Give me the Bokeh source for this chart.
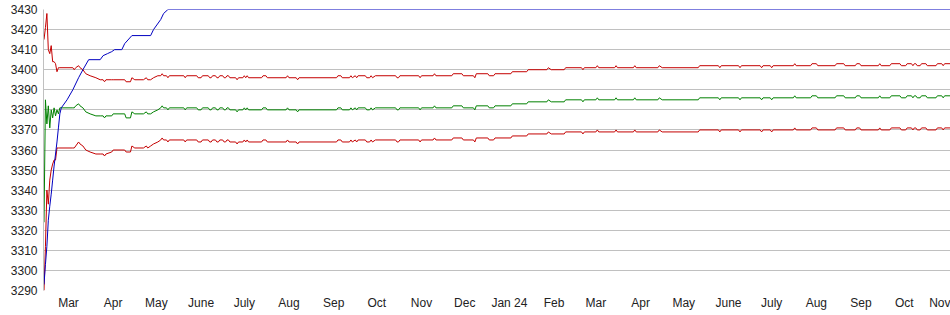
import pandas as pd
from bokeh.plotting import figure
from bokeh.models import Range1d, FixedTicker
from bokeh.embed import file_html
from bokeh.resources import INLINE

# ---------------- data ----------------
band_dates = [
    "2023-02-12", "2023-02-13", "2023-02-14", "2023-02-15", "2023-02-16", "2023-02-17", "2023-02-18", "2023-02-19", "2023-02-20", "2023-02-21",
    "2023-02-22", "2023-02-23", "2023-03-04", "2023-03-05", "2023-03-06", "2023-03-08", "2023-03-09", "2023-03-11", "2023-03-13", "2023-03-16",
    "2023-03-20", "2023-03-23", "2023-03-25", "2023-03-26", "2023-03-27", "2023-03-31", "2023-04-01", "2023-04-09", "2023-04-10", "2023-04-13",
    "2023-04-14", "2023-04-16", "2023-04-22", "2023-04-24", "2023-04-25", "2023-04-27", "2023-04-29", "2023-05-02", "2023-05-04", "2023-05-05",
    "2023-05-06", "2023-05-08", "2023-05-09", "2023-05-10", "2023-05-20", "2023-05-21", "2023-05-22", "2023-05-29", "2023-05-30", "2023-06-01",
    "2023-06-02", "2023-06-06", "2023-06-07", "2023-06-08", "2023-06-09", "2023-06-11", "2023-06-12", "2023-06-13", "2023-06-14", "2023-06-16",
    "2023-06-17", "2023-06-18", "2023-06-19", "2023-06-20", "2023-06-21", "2023-06-25", "2023-06-26", "2023-06-27", "2023-06-30", "2023-07-01",
    "2023-07-02", "2023-07-03", "2023-07-04", "2023-07-13", "2023-07-14", "2023-07-16", "2023-07-17", "2023-07-30", "2023-07-31", "2023-08-01",
    "2023-08-06", "2023-08-07", "2023-08-08", "2023-09-03", "2023-09-04", "2023-09-06", "2023-09-07", "2023-09-12", "2023-09-13", "2023-09-14",
    "2023-09-16", "2023-09-17", "2023-09-18", "2023-09-23", "2023-09-24", "2023-09-26", "2023-09-27", "2023-09-28", "2023-09-30", "2023-10-14",
    "2023-10-15", "2023-10-16", "2023-10-17", "2023-10-30", "2023-10-31", "2023-11-01", "2023-11-09", "2023-11-10", "2023-11-11", "2023-11-22",
    "2023-11-23", "2023-11-29", "2023-11-30", "2023-12-07", "2023-12-08", "2023-12-09", "2023-12-17", "2023-12-18", "2023-12-21", "2023-12-22",
    "2024-01-02", "2024-01-03", "2024-01-13", "2024-01-14", "2024-01-27", "2024-01-28", "2024-01-30", "2024-02-08", "2024-02-09", "2024-02-20",
    "2024-02-21", "2024-02-22", "2024-03-01", "2024-03-02", "2024-03-03", "2024-03-14", "2024-03-15", "2024-03-16", "2024-03-27", "2024-03-28",
    "2024-03-29", "2024-04-13", "2024-04-14", "2024-04-16", "2024-05-11", "2024-05-12", "2024-05-25", "2024-05-26", "2024-05-27", "2024-06-08",
    "2024-06-09", "2024-06-10", "2024-06-23", "2024-06-24", "2024-06-25", "2024-06-30", "2024-07-01", "2024-07-02", "2024-07-16", "2024-07-17",
    "2024-07-18", "2024-07-28", "2024-07-29", "2024-08-01", "2024-08-02", "2024-08-14", "2024-08-15", "2024-08-20", "2024-08-21", "2024-08-28",
    "2024-08-29", "2024-08-31", "2024-09-01", "2024-09-13", "2024-09-14", "2024-09-15", "2024-09-21", "2024-09-22", "2024-09-28", "2024-09-29",
    "2024-10-02", "2024-10-03", "2024-10-06", "2024-10-07", "2024-10-08", "2024-10-09", "2024-10-10", "2024-10-12", "2024-10-13", "2024-10-16",
    "2024-10-17", "2024-10-23", "2024-10-24", "2024-10-27", "2024-10-28", "2024-10-29", "2024-11-03",
]

middle_vals = [
    3324, 3385, 3373, 3382, 3371, 3380, 3376, 3381, 3377, 3380,
    3378, 3381, 3381, 3381, 3382, 3383, 3382, 3381, 3379, 3378,
    3377, 3377, 3377, 3376, 3377, 3377, 3378, 3378, 3376, 3376,
    3379, 3378, 3378, 3379, 3378, 3378, 3379, 3380, 3381, 3382,
    3381, 3381, 3380, 3381, 3381, 3380, 3381, 3381, 3380, 3380,
    3381, 3381, 3380, 3380, 3381, 3381, 3380, 3380, 3381, 3381,
    3380, 3380, 3381, 3381, 3380, 3380, 3379, 3380, 3380, 3381,
    3380, 3381, 3380, 3380, 3381, 3381, 3380, 3380, 3381, 3380,
    3380, 3379, 3380, 3380, 3381, 3381, 3380, 3380, 3381, 3380,
    3381, 3380, 3381, 3381, 3380, 3380, 3381, 3380, 3381, 3381,
    3380, 3380, 3381, 3381, 3380, 3381, 3381, 3382, 3381, 3381,
    3382, 3382, 3381, 3381, 3380, 3382, 3382, 3381, 3381, 3382,
    3382, 3383, 3383, 3384, 3384, 3385, 3384, 3384, 3385, 3385,
    3384, 3385, 3385, 3386, 3385, 3385, 3386, 3385, 3385, 3386,
    3385, 3385, 3386, 3385, 3385, 3386, 3386, 3385, 3386, 3386,
    3385, 3386, 3386, 3385, 3386, 3386, 3385, 3386, 3386, 3387,
    3386, 3386, 3387, 3387, 3386, 3386, 3387, 3387, 3386, 3386,
    3387, 3387, 3386, 3386, 3387, 3386, 3386, 3387, 3387, 3386,
    3386, 3387, 3387, 3386, 3387, 3387, 3386, 3386, 3387, 3387,
    3386, 3386, 3387, 3387, 3386, 3387, 3387,
]

upper_vals = [
    3415, 3421, 3428, 3410, 3408, 3412, 3404, 3404, 3403, 3399,
    3401, 3401, 3401, 3400, 3401, 3402, 3401, 3400, 3398, 3397,
    3396, 3395, 3395, 3394, 3395, 3395, 3395, 3395, 3394, 3394,
    3396, 3395, 3395, 3396, 3395, 3395, 3396, 3397, 3397, 3398,
    3397, 3397, 3396, 3397, 3397, 3396, 3397, 3397, 3396, 3396,
    3397, 3397, 3396, 3396, 3397, 3397, 3396, 3396, 3397, 3397,
    3396, 3396, 3397, 3397, 3396, 3396, 3395, 3396, 3396, 3397,
    3396, 3397, 3396, 3396, 3397, 3397, 3396, 3396, 3397, 3396,
    3396, 3395, 3396, 3396, 3397, 3397, 3396, 3396, 3397, 3396,
    3397, 3396, 3397, 3397, 3396, 3396, 3397, 3396, 3397, 3397,
    3396, 3396, 3397, 3397, 3396, 3397, 3397, 3398, 3397, 3397,
    3398, 3398, 3397, 3397, 3396, 3398, 3398, 3397, 3397, 3398,
    3398, 3399, 3399, 3400, 3400, 3401, 3400, 3400, 3401, 3401,
    3400, 3401, 3401, 3402, 3401, 3401, 3402, 3401, 3401, 3402,
    3401, 3401, 3402, 3401, 3401, 3402, 3402, 3401, 3402, 3402,
    3401, 3402, 3402, 3401, 3402, 3402, 3401, 3402, 3402, 3403,
    3402, 3402, 3403, 3403, 3402, 3402, 3403, 3403, 3402, 3402,
    3403, 3403, 3402, 3402, 3403, 3402, 3402, 3403, 3403, 3402,
    3402, 3403, 3403, 3402, 3403, 3403, 3402, 3402, 3403, 3403,
    3402, 3402, 3403, 3403, 3402, 3403, 3403,
]

lower_vals = [
    3290, 3312, 3340, 3333, 3345, 3350, 3353, 3355, 3355, 3361,
    3361, 3361, 3361, 3361, 3362, 3364, 3363, 3362, 3360, 3359,
    3358, 3358, 3358, 3357, 3358, 3359, 3360, 3360, 3359, 3359,
    3362, 3361, 3361, 3362, 3361, 3362, 3363, 3364, 3365, 3366,
    3365, 3365, 3364, 3365, 3365, 3364, 3365, 3365, 3364, 3364,
    3365, 3365, 3364, 3364, 3365, 3365, 3364, 3364, 3365, 3365,
    3364, 3364, 3365, 3365, 3364, 3364, 3363, 3364, 3364, 3365,
    3364, 3365, 3364, 3364, 3365, 3365, 3364, 3364, 3365, 3364,
    3364, 3363, 3364, 3364, 3365, 3365, 3364, 3364, 3365, 3364,
    3365, 3364, 3365, 3365, 3364, 3364, 3365, 3364, 3365, 3365,
    3364, 3364, 3365, 3365, 3364, 3365, 3365, 3366, 3365, 3365,
    3366, 3366, 3365, 3365, 3364, 3366, 3366, 3365, 3365, 3366,
    3366, 3367, 3367, 3368, 3368, 3369, 3368, 3368, 3369, 3369,
    3368, 3369, 3369, 3370, 3369, 3369, 3370, 3369, 3369, 3370,
    3369, 3369, 3370, 3369, 3369, 3370, 3370, 3369, 3370, 3370,
    3369, 3370, 3370, 3369, 3370, 3370, 3369, 3370, 3370, 3371,
    3370, 3370, 3371, 3371, 3370, 3370, 3371, 3371, 3370, 3370,
    3371, 3371, 3370, 3370, 3371, 3370, 3370, 3371, 3371, 3370,
    3370, 3371, 3371, 3370, 3371, 3371, 3370, 3370, 3371, 3371,
    3370, 3370, 3371, 3371, 3370, 3371, 3371,
]

blue_dates = [
    "2023-02-12", "2023-02-13", "2023-02-14", "2023-02-15", "2023-02-16", "2023-02-17", "2023-02-18", "2023-02-19",
    "2023-02-20", "2023-02-21", "2023-02-22", "2023-02-23", "2023-02-24", "2023-02-28", "2023-03-04", "2023-03-08",
    "2023-03-11", "2023-03-15", "2023-03-23", "2023-03-25", "2023-03-28", "2023-03-31", "2023-04-02", "2023-04-07",
    "2023-04-09", "2023-04-14", "2023-04-27", "2023-04-29", "2023-05-04", "2023-05-06", "2023-05-09", "2024-11-03",
]
blue_vals = [
    3293, 3303, 3312, 3325, 3332, 3338, 3345, 3352,
    3358, 3364, 3371, 3378, 3381, 3385, 3390, 3396,
    3400, 3405, 3405, 3407, 3408, 3409, 3410, 3410,
    3413, 3417, 3417, 3420, 3425, 3428, 3430, 3430,
]

month_ticks = [
    "2023-03-01", "2023-04-01", "2023-05-01", "2023-06-01", "2023-07-01", "2023-08-01", "2023-09-01",
    "2023-10-01", "2023-11-01", "2023-12-01", "2024-01-01", "2024-02-01", "2024-03-01", "2024-04-01",
    "2024-05-01", "2024-06-01", "2024-07-01", "2024-08-01", "2024-09-01", "2024-10-01", "2024-11-01",
]
month_labels = [
    "Mar", "Apr", "May", "June", "July", "Aug", "Sep",
    "Oct", "Nov", "Dec", "Jan 24", "Feb", "Mar", "Apr",
    "May", "June", "July", "Aug", "Sep", "Oct", "Nov",
]
y_ticks = [3290, 3300, 3310, 3320, 3330, 3340, 3350, 3360, 3370, 3380, 3390, 3400, 3410, 3420, 3430]

assert len(band_dates) == len(middle_vals) == len(upper_vals) == len(lower_vals)
assert len(blue_dates) == len(blue_vals)


def ms(s):
    return float(pd.Timestamp(s).value // 10**6)


band_x = pd.to_datetime(band_dates)
blue_x = pd.to_datetime(blue_dates)

p = figure(
    width=950, height=315,
    x_axis_type="datetime",
    x_range=Range1d(ms("2023-02-11 15:36"), ms("2024-11-02 02:00")),
    y_range=Range1d(3290, 3430),
    output_backend="svg", toolbar_location=None,
    min_border_left=43, min_border_right=0, min_border_top=9, min_border_bottom=25,
)
p.outline_line_color = None
p.background_fill_color = "white"
p.border_fill_color = "white"

RED = "#c40000"
GREEN = "#008000"
BLUE = "#0000c0"

p.line(band_x, lower_vals, line_color=RED, line_width=1)
p.line(band_x, middle_vals, line_color=GREEN, line_width=1)
p.line(band_x, upper_vals, line_color=RED, line_width=1)
p.line(blue_x, blue_vals, line_color=BLUE, line_width=1)

# axes
tick_ms = [ms(t) for t in month_ticks]
p.xaxis.ticker = FixedTicker(ticks=tick_ms)
p.xaxis.major_label_overrides = {t: lab for t, lab in zip(tick_ms, month_labels)}
p.yaxis.ticker = FixedTicker(ticks=y_ticks)

for ax in (p.xaxis, p.yaxis):
    ax.major_tick_line_color = None
    ax.minor_tick_line_color = None
    ax.major_tick_out = 0
    ax.major_tick_in = 0
    ax.minor_tick_out = 0
    ax.minor_tick_in = 0
    ax.major_label_text_font = "Liberation Sans"
    ax.major_label_text_font_size = "12px"
    ax.major_label_text_color = "#222222"
p.xaxis.axis_line_color = None
p.yaxis.axis_line_color = "#c0c0c0"
p.xaxis.major_label_standoff = 5
p.yaxis.major_label_standoff = 6

p.xgrid.grid_line_color = None
p.ygrid.grid_line_color = "#c0c0c0"
p.ygrid.grid_line_width = 1

open("out.html", "w").write(file_html(p, INLINE))
